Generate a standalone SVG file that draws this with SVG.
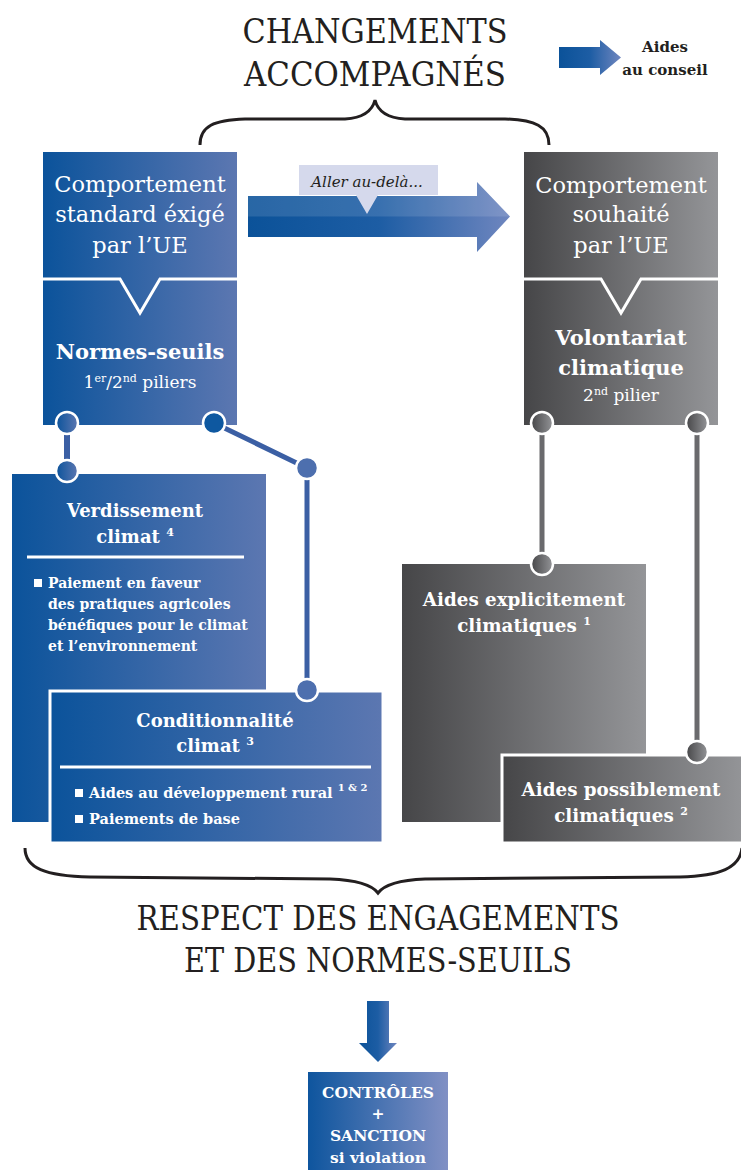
<svg xmlns="http://www.w3.org/2000/svg" width="741" height="1170" viewBox="0 0 741 1170">
<defs>
<linearGradient id="gBlue" x1="0" y1="0" x2="1" y2="0"><stop offset="0" stop-color="#0b539b"/><stop offset="1" stop-color="#5c77b1"/></linearGradient>
<linearGradient id="gGray" x1="0" y1="0" x2="1" y2="0"><stop offset="0" stop-color="#464648"/><stop offset="1" stop-color="#949598"/></linearGradient>
<linearGradient id="gArrow" x1="0" y1="0" x2="1" y2="0"><stop offset="0" stop-color="#0b5299"/><stop offset="0.5" stop-color="#1d5da4"/><stop offset="1" stop-color="#6f86bf"/></linearGradient>
<linearGradient id="gCtrl" x1="0" y1="0" x2="1" y2="0"><stop offset="0" stop-color="#0e559e"/><stop offset="1" stop-color="#8190c4"/></linearGradient>
<style>
.title{font-family:"DejaVu Serif","Liberation Serif",serif;font-size:34px;fill:#231f20;text-anchor:middle}
.hd{font-family:"DejaVu Serif","Liberation Serif",serif;font-size:22.5px;fill:#fff;text-anchor:middle}
.bd{font-family:"DejaVu Serif","Liberation Serif",serif;font-weight:bold;fill:#fff;text-anchor:middle}
.sm{font-family:"DejaVu Serif","Liberation Serif",serif;font-weight:bold;font-size:14px;fill:#fff}
.sep{stroke:#fff;stroke-width:3;fill:none}
.brace{stroke:#231f20;stroke-width:3;fill:none}
.cb{fill:url(#gBlue);stroke:#fff;stroke-width:2.5}
.cg{fill:url(#gGray);stroke:#fff;stroke-width:2.5}
.lb{stroke:#3b5fa4;stroke-width:5;fill:none}
.lg{stroke:#6a6a6d;stroke-width:5;fill:none}
</style>
</defs>
<rect width="741" height="1170" fill="#fff"/>

<g id="title-top">
<text class="title" x="375" y="43" textLength="265" lengthAdjust="spacingAndGlyphs">CHANGEMENTS</text>
<text class="title" x="375" y="86" textLength="262" lengthAdjust="spacingAndGlyphs">ACCOMPAGNÉS</text>
<path class="brace" d="M200,145 C200,126 214,120 245,119 L345,119 C362,118 372,112 375,100 C378,112 388,118 405,119 L505,119 C535,120 549,126 549,145"/>
</g>

<g id="legend">
<polygon points="559,47 600,47 600,40 621,57.5 600,75 600,68 559,68" fill="url(#gArrow)"/>
<text class="bd" x="665" y="52" font-size="15" style="fill:#231f20">Aides</text>
<text class="bd" x="665" y="75" font-size="15" style="fill:#231f20">au conseil</text>
</g>

<g id="node-standard">
<rect x="43" y="152" width="194" height="273" fill="url(#gBlue)"/>
<polyline class="sep" points="43,279 120,279 140,313 160,279 237,279"/>
<text class="hd" x="140" y="192">Comportement</text>
<text class="hd" x="140" y="222">standard éxigé</text>
<text class="hd" x="140" y="253">par l’UE</text>
<text class="bd" x="140" y="359" font-size="21">Normes-seuils</text>
<text class="hd" x="140" y="388" style="font-size:17px">1<tspan dy="-6" style="font-size:11px">er</tspan><tspan dy="6">/2</tspan><tspan dy="-6" style="font-size:11px">nd</tspan><tspan dy="6"> piliers</tspan></text>
</g>

<g id="node-souhaite">
<rect x="524" y="152" width="194" height="273" fill="url(#gGray)"/>
<polyline class="sep" points="524,279 601,279 621,313 641,279 718,279"/>
<text class="hd" x="621" y="193">Comportement</text>
<text class="hd" x="621" y="222">souhaité</text>
<text class="hd" x="621" y="253">par l’UE</text>
<text class="bd" x="621" y="345" font-size="21">Volontariat</text>
<text class="bd" x="621" y="375" font-size="21">climatique</text>
<text class="hd" x="621" y="401" style="font-size:17px">2<tspan dy="-6" style="font-size:11px">nd</tspan><tspan dy="6"> pilier</tspan></text>
</g>

<g id="arrow-aller">
<polygon points="248,196 477,196 477,182 510,216.5 477,252 477,237 248,237" fill="url(#gArrow)"/>
<polygon points="248,196 477,196 477,182 510,216.5 248,216.5" fill="#fff" opacity="0.12"/>
<polygon points="299,165 438,165 438,195 378,195 367,214 356,195 299,195" fill="#d5d9ec"/>
<text x="367" y="187" font-family="DejaVu Serif, Liberation Serif, serif" font-style="italic" font-size="15" fill="#231f20" text-anchor="middle">Aller au-delà...</text>
</g>

<g id="node-verdissement">
<rect x="12" y="474" width="254" height="348" fill="url(#gBlue)"/>
<text class="bd" x="135" y="517" font-size="18">Verdissement</text>
<text class="bd" x="135" y="543" font-size="18">climat <tspan dy="-7" font-size="11">4</tspan></text>
<line x1="27" y1="557" x2="244" y2="557" stroke="#fff" stroke-width="3"/>
<rect x="34" y="579" width="8" height="8" fill="#fff"/>
<text class="sm" x="48" y="588">Paiement en faveur</text>
<text class="sm" x="48" y="609">des pratiques agricoles</text>
<text class="sm" x="48" y="630">bénéfiques pour le climat</text>
<text class="sm" x="48" y="651">et l’environnement</text>
</g>

<g id="node-conditionnalite">
<rect x="50" y="691" width="333" height="152" fill="url(#gBlue)" stroke="#fff" stroke-width="3"/>
<text class="bd" x="215" y="727" font-size="18">Conditionnalité</text>
<text class="bd" x="215" y="752" font-size="18">climat <tspan dy="-7" font-size="11">3</tspan></text>
<line x1="60" y1="767" x2="371" y2="767" stroke="#fff" stroke-width="3"/>
<rect x="75" y="789" width="8" height="8" fill="#fff"/>
<text class="sm" x="89" y="798" style="font-size:14.5px">Aides au développement rural <tspan dy="-7" style="font-size:10px">1 &amp; 2</tspan></text>
<rect x="75" y="815" width="8" height="8" fill="#fff"/>
<text class="sm" x="89" y="824" style="font-size:14.5px">Paiements de base</text>
</g>

<g id="node-explicite">
<rect x="402" y="564" width="244" height="258" fill="url(#gGray)"/>
<text class="bd" x="524" y="606" font-size="18.3">Aides explicitement</text>
<text class="bd" x="524" y="632" font-size="18.3">climatiques <tspan dy="-7" font-size="11">1</tspan></text>
</g>

<g id="node-possible">
<rect x="502" y="755" width="242" height="88" fill="url(#gGray)" stroke="#fff" stroke-width="3"/>
<text class="bd" x="621" y="796" font-size="18.3">Aides possiblement</text>
<text class="bd" x="621" y="822" font-size="18.3">climatiques <tspan dy="-7" font-size="11">2</tspan></text>
</g>

<g id="connectors">
<line class="lb" x1="67" y1="423" x2="67" y2="471" style="stroke-width:6"/>
<polyline class="lb" points="214,423 307,468 307,690"/>
<line class="lg" x1="542" y1="423" x2="542" y2="564"/>
<line class="lg" x1="697" y1="423" x2="697" y2="752"/>
<circle class="cb" cx="67" cy="423" r="11"/>
<circle cx="214" cy="423" r="11" fill="#0e58a0" stroke="#fff" stroke-width="2.5"/>
<circle class="cb" cx="67" cy="471" r="11"/>
<circle cx="307" cy="468" r="11" fill="#4d6fae" stroke="#fff" stroke-width="2.5"/>
<circle cx="307" cy="690" r="11" fill="#4d6fae" stroke="#fff" stroke-width="2.5"/>
<circle class="cg" cx="542" cy="423" r="11"/>
<circle class="cg" cx="697" cy="423" r="11"/>
<circle class="cg" cx="542" cy="564" r="11"/>
<circle class="cg" cx="697" cy="752" r="11"/>
</g>

<g id="title-bottom">
<path class="brace" d="M25,848 C25,868 45,876 90,877 L330,879 C355,880 372,885 378,893 C384,885 400,880 425,879 L680,877 C720,876 740,868 742,848"/>
<text class="title" x="378" y="930" textLength="483" lengthAdjust="spacingAndGlyphs">RESPECT DES ENGAGEMENTS</text>
<text class="title" x="378" y="972" textLength="388" lengthAdjust="spacingAndGlyphs">ET DES NORMES-SEUILS</text>
</g>

<g id="arrow-down">
<polygon points="367,1001 389,1001 389,1043 397,1043 378,1062 359,1043 367,1043" fill="url(#gArrow)"/>
</g>

<g id="node-controles">
<rect x="308" y="1072" width="140" height="98" fill="url(#gCtrl)"/>
<text class="bd" x="378" y="1098" font-size="15.5">CONTRÔLES</text>
<text class="bd" x="378" y="1119" font-size="15.5">+</text>
<text class="bd" x="378" y="1141" font-size="15.5">SANCTION</text>
<text class="bd" x="378" y="1163" font-size="15.5">si violation</text>
</g>
</svg>
